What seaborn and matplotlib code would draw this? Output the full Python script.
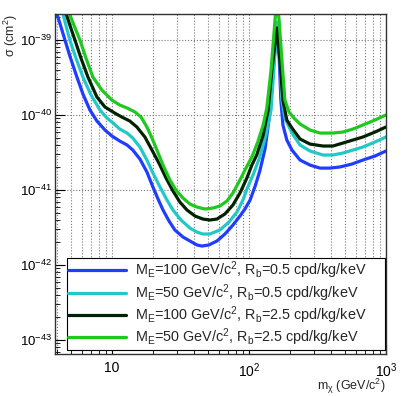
import numpy as np
import pandas as pd
import matplotlib
matplotlib.use("Agg")
import matplotlib.pyplot as plt
import matplotlib.ticker as mticker
import seaborn as sns

# ----------------------------------------------------------
# DATA
# ----------------------------------------------------------
mass_blue = [3.97, 4.25, 4.54, 4.93, 5.55, 6.14, 6.90, 7.77, 8.89, 10.0,
             11.4, 12.9, 14.2, 16.0, 18.0, 19.9, 21.7, 23.6, 26.1, 28.8,
             33.0, 37.1, 41.7, 45.4, 51.0, 58.4, 66.8, 76.4, 86.0, 93.5,
             102, 111, 120, 131, 140, 147, 155, 160, 166, 171,
             177, 189, 206, 236, 279, 330, 390, 462, 565, 679,
             832, 1000]
sigma_blue = [2.22e-39, 1.49e-39, 1.0e-39, 6.12e-40, 3.21e-40, 1.91e-40, 1.17e-40, 8.32e-41, 6.31e-41, 5.25e-41,
              4.50e-41, 3.98e-41, 3.41e-41, 2.59e-41, 1.74e-41, 1.10e-41, 7.59e-42, 5.41e-42, 3.86e-42, 2.93e-42,
              2.36e-42, 2.09e-42, 1.85e-42, 1.79e-42, 1.85e-42, 2.09e-42, 2.59e-42, 3.41e-42, 4.50e-42, 5.58e-42,
              7.36e-42, 1.13e-41, 1.79e-41, 3.52e-41, 8.58e-41, 2.51e-40, 7.36e-40, 1.36e-39, 6.31e-40, 1.58e-40,
              7.36e-41, 4.64e-41, 3.41e-41, 2.51e-41, 2.15e-41, 1.96e-41, 1.96e-41, 2.03e-41, 2.22e-41, 2.51e-41,
              2.84e-41, 3.31e-41]

mass_cyan = [4.32, 4.61, 4.93, 5.46, 6.14, 7.03, 8.17, 9.19, 10.2, 11.4,
             12.9, 14.2, 16.0, 18.0, 19.9, 22.4, 25.2, 27.9, 31.9, 37.1,
             41.7, 46.1, 51.9, 61.4, 71.5, 81.8, 90.4, 96.7, 107, 120,
             133, 145, 152, 160, 168, 174, 183, 206, 236, 279,
             347, 410, 485, 574, 679, 832, 1000]
sigma_cyan = [2.51e-39, 1.58e-39, 1.0e-39, 5.75e-40, 3.21e-40, 1.85e-40, 1.17e-40, 9.12e-41, 7.82e-41, 6.50e-41,
              5.75e-41, 4.93e-41, 3.74e-41, 2.51e-41, 1.69e-41, 1.10e-41, 7.36e-42, 5.41e-42, 3.98e-42, 3.11e-42,
              2.75e-42, 2.59e-42, 2.59e-42, 2.93e-42, 3.74e-42, 5.09e-42, 7.36e-42, 1.03e-41, 1.58e-41, 2.75e-41,
              5.41e-41, 1.17e-40, 3.98e-40, 1.74e-39, 5.41e-40, 1.58e-40, 9.12e-41, 5.75e-41, 3.98e-41, 3.31e-41,
              2.93e-41, 2.93e-41, 3.11e-41, 3.41e-41, 3.74e-41, 4.37e-41, 5.09e-41]

mass_dark = [4.54, 4.93, 5.37, 5.94, 6.68, 7.77, 8.89, 10.5, 11.8, 13.5,
             15.2, 17.4, 19.6, 22.4, 24.8, 27.9, 31.3, 35.3, 40.4, 46.1,
             51.9, 58.4, 66.8, 76.4, 86.0, 96.7, 105, 114, 127, 138,
             147, 160, 168, 177, 189, 206, 236, 279, 347, 410,
             485, 574, 679, 832, 1000]
sigma_dark = [2.51e-39, 1.58e-39, 1.0e-39, 5.75e-40, 3.21e-40, 1.74e-40, 1.28e-40, 1.06e-40, 9.40e-41, 8.32e-41,
              6.92e-41, 5.09e-41, 3.41e-41, 2.15e-41, 1.45e-41, 9.70e-42, 6.92e-42, 5.41e-42, 4.50e-42, 4.10e-42,
              3.98e-42, 4.10e-42, 4.79e-42, 6.31e-42, 9.12e-42, 1.45e-41, 2.15e-41, 2.93e-41, 5.41e-41, 1.17e-40,
              3.98e-40, 1.45e-39, 5.41e-40, 1.58e-40, 8.58e-41, 6.71e-41, 4.79e-41, 4.10e-41, 3.86e-41, 3.86e-41,
              4.23e-41, 4.64e-41, 5.09e-41, 5.93e-41, 6.92e-41]

mass_green = [4.77, 5.28, 5.84, 6.46, 7.26, 8.45, 10.0, 11.4, 12.9, 14.7,
              16.3, 18.0, 19.6, 21.3, 23.6, 26.5, 29.3, 33.0, 37.1, 41.7,
              47.7, 54.6, 61.4, 69.1, 76.4, 86.0, 95.1, 105, 116, 127,
              135, 145, 155, 160, 166, 174, 183, 196, 213, 236,
              279, 330, 410, 485, 574, 679, 832, 1000]
sigma_green = [2.51e-39, 1.58e-39, 1.0e-39, 5.75e-40, 3.21e-40, 2.15e-40, 1.58e-40, 1.36e-40, 1.24e-40, 1.10e-40,
               9.40e-41, 6.92e-41, 4.93e-41, 3.41e-41, 2.15e-41, 1.36e-41, 1.0e-41, 7.82e-42, 6.50e-42, 5.93e-42,
               5.58e-42, 5.75e-42, 6.12e-42, 7.13e-42, 9.12e-42, 1.36e-41, 1.96e-41, 2.75e-41, 4.37e-41, 7.36e-41,
               1.24e-40, 3.98e-40, 1.85e-39, 3.41e-39, 1.85e-39, 5.41e-40, 1.58e-40, 1.10e-40, 9.12e-41, 7.59e-41,
               6.31e-41, 5.75e-41, 5.75e-41, 5.93e-41, 6.50e-41, 7.36e-41, 8.58e-41, 1.0e-40]

labels = [
    r"M$\mathregular{_E}$=100 GeV/c$\mathregular{^2}$, R$\mathregular{_b}$=0.5 cpd/kg/keV",
    r"M$\mathregular{_E}$=50 GeV/c$\mathregular{^2}$, R$\mathregular{_b}$=0.5 cpd/kg/keV",
    r"M$\mathregular{_E}$=100 GeV/c$\mathregular{^2}$, R$\mathregular{_b}$=2.5 cpd/kg/keV",
    r"M$\mathregular{_E}$=50 GeV/c$\mathregular{^2}$, R$\mathregular{_b}$=2.5 cpd/kg/keV",
]
colors = ["#1f3cff", "#22c8c8", "#002200", "#1ec81e"]

x_major = [10, 100, 1000]
y_major = [1e-43, 1e-42, 1e-41, 1e-40, 1e-39]

series = [
    (mass_blue, sigma_blue),
    (mass_cyan, sigma_cyan),
    (mass_dark, sigma_dark),
    (mass_green, sigma_green),
]

# ----------------------------------------------------------
# STYLE
# ----------------------------------------------------------
sns.set_theme(style="ticks")
plt.rcParams["font.family"] = ["Liberation Sans", "DejaVu Sans"]
plt.rcParams["mathtext.fontset"] = "custom"
plt.rcParams["mathtext.rm"] = "Liberation Sans"
plt.rcParams["mathtext.it"] = "Liberation Sans:italic"

fig = plt.figure(figsize=(4.15, 3.96), dpi=100)
ax = fig.add_axes([0.1325, 0.106, 0.7975, 0.8585])

# ----------------------------------------------------------
# CURVES
# ----------------------------------------------------------
for (m, s), lab, col in zip(series, labels, colors):
    df = pd.DataFrame({"m": m, "sigma": s})
    sns.lineplot(data=df, x="m", y="sigma", sort=False, color=col,
                 linewidth=2.3, label=lab, ax=ax)

ax.set_xscale("log")
ax.set_yscale("log")
ax.set_xlim(3.84, 1000)
ax.set_ylim(6.5e-44, 2.22e-39)

# ----------------------------------------------------------
# AXES / TICKS / GRID
# ----------------------------------------------------------
def xfmt(v, pos):
    n = int(round(np.log10(v)))
    if n == 1:
        return "10"
    return r"$\mathregular{10^{%d}}$" % n

def yfmt(v, pos):
    n = int(round(np.log10(v)))
    return r"$\mathregular{10^{%d}}$" % n

ax.xaxis.set_major_locator(mticker.FixedLocator(x_major))
ax.xaxis.set_minor_locator(mticker.LogLocator(base=10, subs=np.arange(2, 10), numticks=20))
ax.xaxis.set_major_formatter(mticker.FuncFormatter(xfmt))
ax.xaxis.set_minor_formatter(mticker.NullFormatter())
ax.yaxis.set_major_locator(mticker.FixedLocator(y_major))
ax.yaxis.set_minor_locator(mticker.LogLocator(base=10, subs=np.arange(2, 10), numticks=40))
ax.yaxis.set_major_formatter(mticker.FuncFormatter(yfmt))
ax.yaxis.set_minor_formatter(mticker.NullFormatter())

ax.tick_params(which="both", direction="in", top=False, right=False,
               labelsize=10, colors="black")
ax.tick_params(which="major", length=7, width=0.8)
ax.tick_params(axis="y", which="major", pad=2, labelsize=9.5)
ax.tick_params(axis="x", which="major", pad=5)
ax.tick_params(which="minor", length=3.5, width=0.6)

ax.grid(True, which="major", axis="both", linestyle=":", color="#777777", linewidth=0.8)
ax.grid(True, which="minor", axis="x", linestyle=":", color="#777777", linewidth=0.8)
ax.set_axisbelow(True)

for sp in ax.spines.values():
    sp.set_color("#333333")
    sp.set_linewidth(1.0)

ax.set_xlabel(r"m$\mathregular{_χ}$ (GeV/c$\mathregular{^2}$)", fontsize=9, loc="right")
ax.xaxis.set_label_coords(1.0, -0.066)
ax.set_ylabel(r"σ (cm$\mathregular{^2}$)", fontsize=9, loc="top")
ax.yaxis.set_label_coords(-0.106, 1.0)

# ----------------------------------------------------------
# LEGEND
# ----------------------------------------------------------
leg = ax.legend(loc="lower left", bbox_to_anchor=(0.036, 0.012, 0.96, 0.274),
                mode="expand", fontsize=10.4, frameon=True, fancybox=False,
                edgecolor="black", framealpha=1.0, handlelength=4.0,
                handletextpad=0.6, labelspacing=0.06, borderpad=0.1,
                borderaxespad=0.0)
leg.get_frame().set_linewidth(0.8)

fig.savefig("out.png", dpi=100)
